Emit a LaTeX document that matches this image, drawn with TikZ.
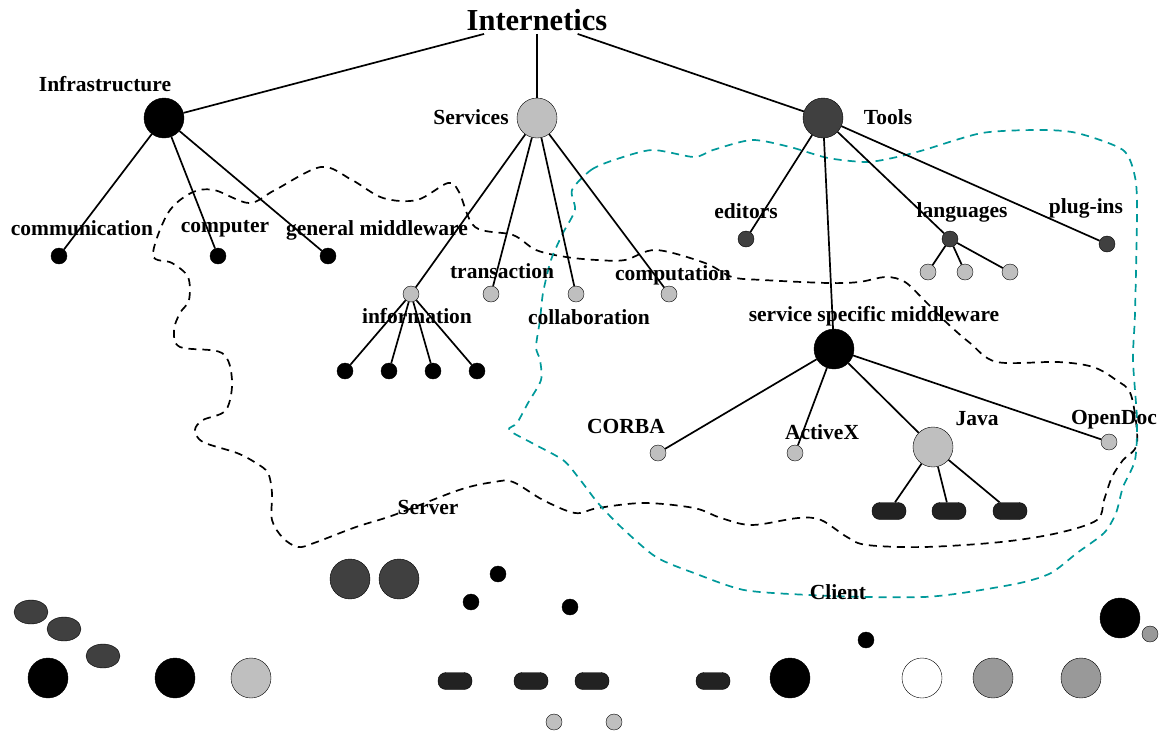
\documentclass[tikz,border=0pt]{standalone}
\usepackage{fontspec}
\setmainfont{Liberation Serif}
\usetikzlibrary{shapes.geometric}
\definecolor{lightg}{HTML}{BFBFBF}
\definecolor{darkg}{HTML}{404040}
\definecolor{midg}{HTML}{999999}
\definecolor{pillc}{HTML}{222222}
\definecolor{clientc}{HTML}{00999A}
\newcommand\lbfont{\fontsize{21.5}{24}\selectfont\bfseries}
\tikzset{hub/.style={ellipse,draw,thin,minimum width=40pt,minimum height=40pt,inner sep=0pt},
         leaf/.style={circle,draw,thin,minimum size=16pt,inner sep=0pt},
         blob/.style={ellipse,draw,thin,fill=darkg,minimum width=34pt,minimum height=24pt,inner sep=0pt},
         pill/.style={rectangle,rounded corners=8pt,draw,thin,fill=pillc,minimum width=34pt,minimum height=17pt,inner sep=0pt},
         lbl/.style={font=\lbfont,inner sep=1pt},
         edge/.style={line width=1.7pt},
         region/.style={line width=1.7pt,dash pattern=on 8pt off 6pt}}

\begin{document}
\begin{tikzpicture}[x=1pt,y=-1pt]
    \useasboundingbox (0,0) rectangle (1161,734);
    % server and client regions
    \draw[region] plot[smooth cycle,tension=0.55] coordinates {(153,255) (168,213) (191,193) (214,190) (249,203) (275,190) (321,167) (352,180) (383,198) (417,200) (448,183) (459,192) (475,227) (513,235) (536,250) (566,257) (597,260) (625,260) (656,250) (705,263) (732,277) (763,280) (828,283) (859,282) (886,277) (905,282) (924,300) (947,323) (970,343) (997,362) (1058,362) (1093,367) (1116,380) (1131,395) (1137,443) (1123,460) (1112,477) (1104,500) (1097,520) (1058,533) (1001,542) (924,547) (867,545) (847,537) (821,520) (798,518) (752,525) (721,518) (694,508) (644,503) (598,508) (575,513) (543,500) (513,482) (494,482) (459,490) (394,515) (356,527) (314,543) (298,547) (283,538) (272,520) (272,493) (268,473) (256,463) (237,453) (203,442) (195,430) (203,420) (226,410) (232,380) (222,353) (180,347) (174,330) (180,313) (189,300) (188,277) (172,263)};
    \draw[region,clientc] plot[smooth cycle,tension=0.45] coordinates {(572,190) (591,170) (614,160) (652,150) (694,157) (713,150) (752,140) (790,147) (828,158) (867,162) (897,157) (924,150) (982,133) (1039,130) (1077,133) (1123,150) (1135,177) (1137,213) (1135,313) (1133,360) (1137,420) (1135,460) (1123,487) (1116,513) (1104,533) (1077,553) (1051,573) (1020,583) (962,593) (924,597) (867,597) (809,595) (744,590) (694,573) (656,557) (621,527) (598,503) (578,477) (563,460) (532,443) (509,430) (517,423) (528,403) (541,380) (540,360) (536,347) (540,320) (543,293) (551,260) (563,233) (575,210)};

    % tree
    \node[font=\fontsize{30.5}{34}\selectfont\bfseries,inner sep=3pt] (top) at (537,20) {Internetics};
    \node[hub,fill=black] (infra) at (164,118) {};
    \node[hub,fill=lightg] (svc) at (537,118) {};
    \node[hub,fill=darkg] (tools) at (823,118) {};
    \node[lbl] (linfra) at (105,84) {Infrastructure};
    \node[lbl] (lsvc) at (471,117) {Services};
    \node[lbl] (ltools) at (888,117) {Tools};

    \node[leaf,fill=black] (comm) at (59,256) {};
    \node[leaf,fill=black] (comp) at (218,256) {};
    \node[leaf,fill=black] (gmw) at (328,256) {};
    \node[lbl] (lcomm) at (82,228) {communication};
    \node[lbl] (lcomp) at (225,229) {computer};
    \node[lbl] (lgmw) at (377,230) {general middleware};

    \node[leaf,fill=lightg] (info) at (411,294) {};
    \node[leaf,fill=lightg] (trans) at (491,294) {};
    \node[leaf,fill=lightg] (collab) at (576,294) {};
    \node[leaf,fill=lightg] (compu) at (669,294) {};
    \node[lbl] (linfo) at (417,316) {information};
    \node[lbl] (ltrans) at (502,271) {transaction};
    \node[lbl] (lcollab) at (589,317) {collaboration};
    \node[lbl] (lcompu) at (673,275) {computation};
    \foreach \i/\x in {1/345,2/389,3/433,4/477}
        \node[leaf,fill=black] (i\i) at (\x,371) {};

    \node[leaf,fill=darkg] (edit) at (746,239) {};
    \node[leaf,fill=darkg] (lang) at (950,239) {};
    \node[leaf,fill=darkg] (plug) at (1107,244) {};
    \node[lbl] (ledit) at (746,211) {editors};
    \node[lbl] (llang) at (962,212) {languages};
    \node[lbl] (lplug) at (1086,208) {plug-ins};
    \foreach \i/\x in {1/928,2/965,3/1010}
        \node[leaf,fill=lightg] (l\i) at (\x,272) {};

    \node[hub,fill=black] (ssm) at (834,349) {};
    \node[lbl] (lssm) at (874,316) {service specific middleware};
    \node[leaf,fill=lightg] (corba) at (658,453) {};
    \node[leaf,fill=lightg] (actx) at (795,453) {};
    \node[hub,fill=lightg] (java) at (933,447) {};
    \node[leaf,fill=lightg] (odoc) at (1109,442) {};
    \node[lbl] (lcorba) at (626,426) {CORBA};
    \node[lbl] (lactx) at (822,432) {ActiveX};
    \node[lbl] (ljava) at (977,419) {Java};
    \node[lbl] (lodoc) at (1114,420) {OpenDoc};
    \foreach \i/\x in {1/889,2/949,3/1010}
        \node[pill] (j\i) at (\x,511) {};

    \node[lbl] (lserver) at (428,507) {Server};
    \node[lbl] (lclient) at (838,592) {Client};

    % connectors
    \foreach \a/\b in {top/infra,top/svc,top/tools,infra/comm,infra/comp,infra/gmw,
                       svc/info,svc/trans,svc/collab,svc/compu,info/i1,info/i2,info/i3,info/i4,
                       tools/edit,tools/ssm,tools/lang,tools/plug,lang/l1,lang/l2,lang/l3,
                       ssm/corba,ssm/actx,ssm/java,ssm/odoc,java/j1,java/j2,java/j3}
        \draw[edge] (\a) -- (\b);

    % loose parts
    \node[blob] (e1) at (31,612) {};
    \node[blob] (e2) at (64,629) {};
    \node[blob] (e3) at (103,656) {};
    \node[hub,fill=black] (b1) at (48,678) {};
    \node[hub,fill=black] (b2) at (175,678) {};
    \node[hub,fill=lightg] (b3) at (251,678) {};
    \node[hub,fill=darkg] (d1) at (350,579) {};
    \node[hub,fill=darkg] (d2) at (399,579) {};
    \node[leaf,fill=black] (s1) at (498,574) {};
    \node[leaf,fill=black] (s2) at (471,602) {};
    \node[leaf,fill=black] (s3) at (570,607) {};
    \node[leaf,fill=black] (s4) at (866,640) {};
    \foreach \i/\x in {1/455,2/531,3/592,4/713}
        \node[pill] (p\i) at (\x,681) {};
    \node[leaf,fill=lightg] (g1) at (554,722) {};
    \node[leaf,fill=lightg] (g2) at (614,722) {};
    \node[hub,fill=black] (b4) at (790,678) {};
    \node[hub,fill=white] (w1) at (922,678) {};
    \node[hub,fill=midg] (m1) at (993,678) {};
    \node[hub,fill=midg] (m2) at (1081,678) {};
    \node[hub,fill=black] (b5) at (1120,618) {};
    \node[leaf,fill=midg] (m3) at (1150,634) {};
\end{tikzpicture}
\end{document}
